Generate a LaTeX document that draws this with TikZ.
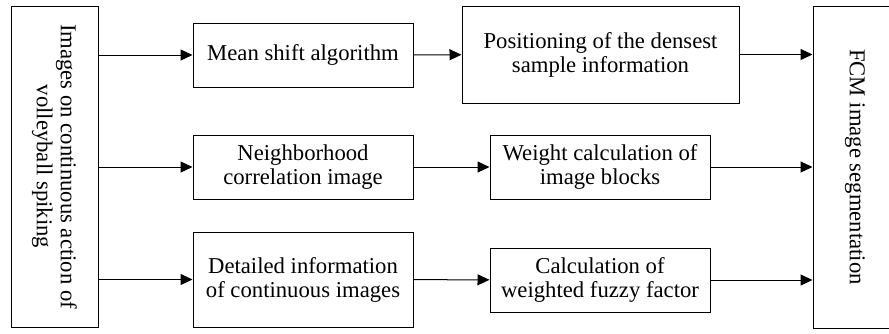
\documentclass[tikz,border=0pt]{standalone}
\usepackage{fontspec}
\setmainfont{Liberation Serif}
\usepackage{tikz}
\usetikzlibrary{arrows.meta, positioning}
\tikzset{
  stage/.style={draw, line width=1pt, align=center, inner sep=0pt,
    font=\fontsize{22.7}{24}\selectfont},
  flow/.style={-{Triangle[length=12pt,width=11pt]}, line width=1pt}
}

\begin{document}
\begin{tikzpicture}[x=1pt, y=1pt, every node/.style={stage}]
\clip (0,0) rectangle (889,-333);
\node[minimum width=87pt, minimum height=321pt] (input) at (54.5,-166.5) {};
\node[draw=none, rotate=-90] at (input.center) {Images on continuous action of\\volleyball spiking};
\node[minimum width=80pt, minimum height=322pt] (fcm) at (853,-167) {};
\node[draw=none, rotate=-90] at (855,-167) {FCM image segmentation};
\node[minimum width=220pt, minimum height=64pt] (shift) at (303,-55) {Mean shift algorithm};
\node[minimum width=277pt, minimum height=97pt] (dense) at (600.5,-54.5) {Positioning of the densest\\sample information};
\node[minimum width=220pt, minimum height=64pt] (neigh) at (303,-167) {Neighborhood\\correlation image};
\node[minimum width=220pt, minimum height=64pt] (weight) at (600,-167) {Weight calculation of\\image blocks};
\node[minimum width=220pt, minimum height=95pt] (detail) at (303,-279.5) {Detailed information\\of continuous images};
\node[minimum width=220pt, minimum height=64pt] (fuzzy) at (600,-280) {Calculation of\\weighted fuzzy factor};
\draw[flow] (input.east |- shift) -- (shift);
\draw[flow] (input.east |- neigh) -- (neigh);
\draw[flow] (input.east |- detail) -- (detail);
\draw[flow] (shift) -- (dense);
\draw[flow] (neigh) -- (weight);
\draw[flow] (detail) -- (fuzzy);
\draw[flow] (dense) -- (dense -| fcm.west);
\draw[flow] (weight) -- (weight -| fcm.west);
\draw[flow] (fuzzy) -- (fuzzy -| fcm.west);
\end{tikzpicture}
\end{document}
